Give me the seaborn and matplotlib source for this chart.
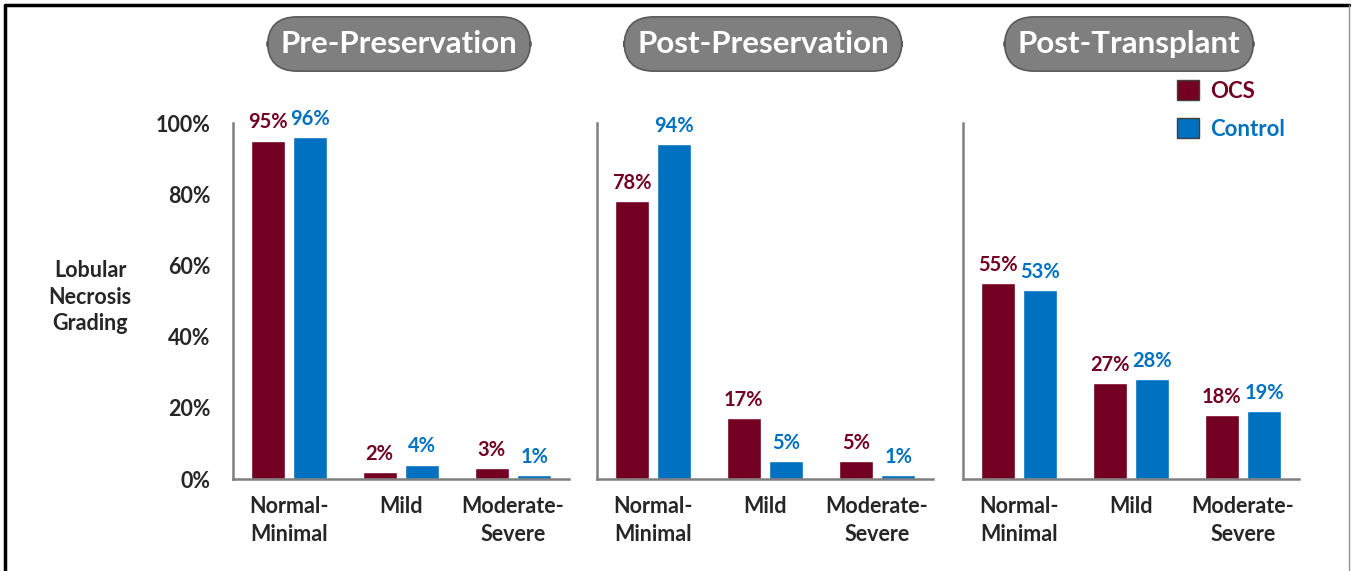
import pandas as pd
import seaborn as sns
import matplotlib.pyplot as plt
from matplotlib.patches import Patch
from matplotlib.lines import Line2D

# data
stages = ['Pre-Preservation', 'Post-Preservation', 'Post-Transplant']
grades = ['Normal-\nMinimal', 'Mild', 'Moderate-\nSevere']
groups = ['OCS', 'Control']
ocs_pct = [[95, 2, 3], [78, 17, 5], [55, 27, 18]]
control_pct = [[96, 4, 1], [94, 5, 1], [53, 28, 19]]
yticks = [0, 20, 40, 60, 80, 100]

colors = {'OCS': '#730022', 'Control': '#0070C0'}

rows = []
for s, stage in enumerate(stages):
    for g, grade in enumerate(grades):
        rows.append([stage, grade, 'OCS', ocs_pct[s][g]])
        rows.append([stage, grade, 'Control', control_pct[s][g]])
df = pd.DataFrame(rows, columns=['stage', 'grade', 'group', 'pct'])

sns.set_style('white')
plt.rcParams['font.family'] = ['Lato', 'DejaVu Sans']
plt.rcParams['font.weight'] = 'bold'

W, H = 1354, 571
fig = plt.figure(figsize=(W / 100, H / 100), dpi=100)
lefts = [233, 597, 963]

for i, stage in enumerate(stages):
    ax = fig.add_axes([lefts[i] / W, 92 / H, 336 / W, 356 / H])
    d = df[df['stage'] == stage]
    sns.barplot(data=d, x='grade', y='pct', hue='group', order=grades,
                hue_order=groups, palette=colors, width=0.76, gap=0.2,
                saturation=1, legend=False, ax=ax)
    for cont, grp in zip(ax.containers, groups):
        ax.bar_label(cont, labels=[f'{v:.0f}%' for v in cont.datavalues],
                     padding=6, color=colors[grp], fontsize=14.5, fontweight='bold')
    ax.set_xlim(-0.5, 2.5)
    ax.set_ylim(0, 100)
    ax.set_xlabel('')
    ax.set_ylabel('')
    sns.despine(ax=ax)
    for sp in ['left', 'bottom']:
        ax.spines[sp].set_color('#7f7f7f')
        ax.spines[sp].set_linewidth(1.8)
    ax.tick_params(axis='x', length=0, pad=12, labelsize=15.5)
    for lab in ax.get_xticklabels():
        lab.set_linespacing(1.45)
    if i == 0:
        ax.set_yticks(yticks)
        ax.set_yticklabels([f'{t}%' for t in yticks])
        ax.tick_params(axis='y', length=0, pad=16, labelsize=15.5)
    else:
        ax.set_yticks([])

    fig.text((lefts[i] + 166) / W, 1 - 44 / H, stage, ha='center', va='center',
             color='white', fontsize=22.5, fontweight='bold',
             bbox=dict(boxstyle='round,pad=0.42,rounding_size=0.95',
                       fc='#7f7f7f', ec='#595959', lw=1.2))

fig.text(90 / W, 1 - 297 / H, 'Lobular\nNecrosis\nGrading', ha='center',
         va='center', fontsize=15.5, fontweight='bold', linespacing=1.35)

handles = [Patch(facecolor=colors[g], edgecolor='#404040', lw=1) for g in groups]
fig.legend(handles, groups, loc='upper left', bbox_to_anchor=(1157 / W, 1 - 60 / H),
           frameon=False, handlelength=1.0, handleheight=1.0,
           handletextpad=0.5, labelspacing=0.75,
           labelcolor=[colors[g] for g in groups], prop={'weight': 'bold', 'size': 16})

# outer frame
fig.add_artist(Line2D([5 / W, 5 / W], [0, 1 - 5 / H], color='black', lw=2.5,
                      transform=fig.transFigure))
fig.add_artist(Line2D([5 / W, 1349 / W], [1 - 5 / H, 1 - 5 / H], color='black',
                      lw=2.5, transform=fig.transFigure))
fig.add_artist(Line2D([1349 / W, 1349 / W], [0, 1 - 5 / H], color='#909090',
                      lw=1, transform=fig.transFigure))

fig.savefig('out.png', dpi=100)
